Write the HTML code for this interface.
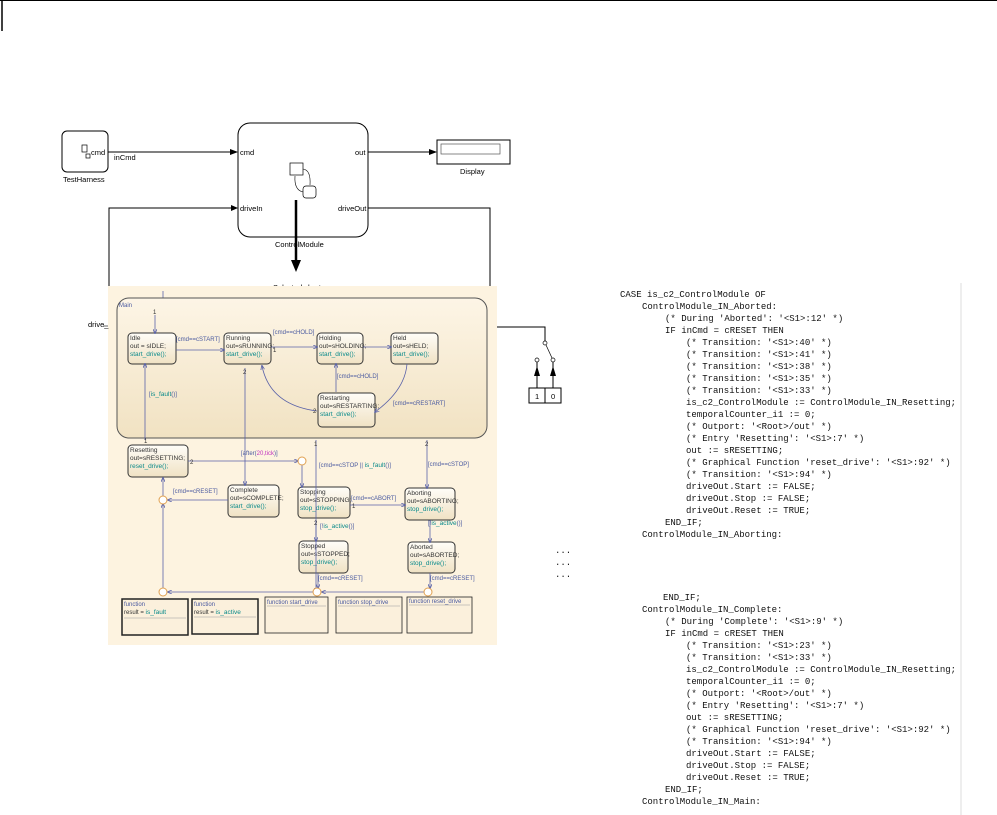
<!DOCTYPE html>
<html><head><meta charset="utf-8"><style>
html,body{margin:0;padding:0;background:#fff;width:997px;height:815px;overflow:hidden}
svg{display:block}
.s{font-family:"Liberation Sans",sans-serif;font-size:7.5px;fill:#000}
.t{font-family:"Liberation Sans",sans-serif;font-size:6.5px;fill:#333}
.a{font-family:"Liberation Sans",sans-serif;font-size:6.5px;fill:#0a8a8a}
.g{font-family:"Liberation Sans",sans-serif;font-size:6px;fill:#4a5aa0}
.c{font-family:"Liberation Mono",monospace;font-size:9px;fill:#111;white-space:pre}
</style></head><body>
<svg width="997" height="815" viewBox="0 0 997 815" xmlns="http://www.w3.org/2000/svg">
<defs>
<marker id="ar" markerWidth="8" markerHeight="6" refX="7" refY="3" orient="auto" markerUnits="userSpaceOnUse"><path d="M0,0L8,3L0,6z" fill="#000"/></marker>
<marker id="sa" markerWidth="5" markerHeight="4" refX="4" refY="2" orient="auto" markerUnits="userSpaceOnUse"><path d="M0,0L5,2L0,4" fill="none" stroke="#5a62a8" stroke-width="0.8"/></marker>
<linearGradient id="st" x1="0" y1="0" x2="0" y2="1"><stop offset="0" stop-color="#fffdf8"/><stop offset="1" stop-color="#f0e2c4"/></linearGradient>
<linearGradient id="mn" x1="0" y1="0" x2="0" y2="1"><stop offset="0" stop-color="#fdf5e6"/><stop offset="1" stop-color="#f1e2c2"/></linearGradient>
</defs>
<line x1="0" y1="0.5" x2="997" y2="0.5" stroke="#000"/>
<line x1="2" y1="0" x2="2" y2="31" stroke="#000" stroke-width="1.5"/>

<!-- top block diagram -->
<rect x="62" y="131" width="46" height="41" rx="5" fill="#fff" stroke="#000"/>
<rect x="82" y="145" width="5" height="7" fill="none" stroke="#000" stroke-width="0.7"/>
<rect x="86" y="154" width="4" height="4" fill="none" stroke="#000" stroke-width="0.7"/>
<text x="91" y="155" class="s">cmd</text>
<text x="63" y="182" class="s">TestHarness</text>
<line x1="108" y1="152" x2="237" y2="152" stroke="#000" marker-end="url(#ar)"/>
<text x="114" y="160" class="s">inCmd</text>
<rect x="238" y="123" width="130" height="114" rx="12" fill="#fff" stroke="#000"/>
<text x="240" y="155" class="s">cmd</text>
<text x="240" y="211" class="s">driveIn</text>
<text x="355" y="155" class="s">out</text>
<text x="338" y="211" class="s">driveOut</text>
<text x="275" y="247" class="s">ControlModule</text>
<rect x="290" y="163" width="13" height="12" fill="#fff" stroke="#000" stroke-width="0.7"/>
<rect x="303" y="186" width="13" height="12" rx="3" fill="#fff" stroke="#000" stroke-width="0.7"/>
<path d="M303,169 Q311,170 310,185" fill="none" stroke="#000" stroke-width="0.6"/>
<path d="M303,192 Q294,190 295,176" fill="none" stroke="#000" stroke-width="0.6"/>
<line x1="368" y1="152" x2="436" y2="152" stroke="#000" marker-end="url(#ar)"/>
<rect x="437" y="140" width="73" height="24" fill="#fff" stroke="#000"/>
<rect x="441" y="144" width="59" height="10" fill="#fff" stroke="#555" stroke-width="0.7"/>
<text x="460" y="174" class="s">Display</text>
<polyline points="109,286 109,208 237,208" fill="none" stroke="#000"/>
<path d="M231,205L238,208L231,211z"/>
<polyline points="368,208 490,208 490,286" fill="none" stroke="#000"/>
<line x1="296" y1="200" x2="296" y2="262" stroke="#000" stroke-width="2.5"/>
<path d="M291,260L296,272L301,260z"/>
<text x="273" y="290" class="s">Selected chart</text>

<!-- chart background -->
<rect x="108" y="286" width="389" height="359" fill="#fdf3e0"/>
<text x="88" y="327" class="s">drive_</text>
<line x1="103" y1="326" x2="108" y2="326" stroke="#000" stroke-width="0.6"/>
<line x1="163" y1="291" x2="163" y2="298" stroke="#5a62a8" stroke-width="0.8"/>
<rect x="117" y="298" width="370" height="140" rx="12" fill="url(#mn)" stroke="#555" stroke-width="1"/>
<text x="119" y="307" class="g" fill="#333">Main</text>

<!-- states -->
<g stroke="#333" stroke-width="1" fill="url(#st)">
<rect x="128" y="333" width="48" height="31" rx="4"/>
<rect x="224" y="333" width="47" height="31" rx="4"/>
<rect x="317" y="333" width="46" height="31" rx="4"/>
<rect x="391" y="333" width="47" height="31" rx="4"/>
<rect x="318" y="393" width="57" height="34" rx="4"/>
<rect x="128" y="445" width="60" height="32" rx="4"/>
<rect x="228" y="485" width="51" height="32" rx="4"/>
<rect x="298" y="487" width="52" height="31" rx="4"/>
<rect x="405" y="488" width="50" height="32" rx="4"/>
<rect x="299" y="541" width="49" height="32" rx="4"/>
<rect x="408" y="542" width="47" height="31" rx="4"/>
</g>
<g class="t">
<text x="130" y="340">Idle</text><text x="130" y="348">out = sIDLE;</text><text x="130" y="356" class="a">start_drive();</text>
<text x="226" y="340">Running</text><text x="226" y="348">out=sRUNNING;</text><text x="226" y="356" class="a">start_drive();</text>
<text x="319" y="340">Holding</text><text x="319" y="348">out=sHOLDING;</text><text x="319" y="356" class="a">start_drive();</text>
<text x="393" y="340">Held</text><text x="393" y="348">out=sHELD;</text><text x="393" y="356" class="a">start_drive();</text>
<text x="320" y="400">Restarting</text><text x="320" y="408">out=sRESTARTING;</text><text x="320" y="416" class="a">start_drive();</text>
<text x="130" y="452">Resetting</text><text x="130" y="460">out=sRESETTING;</text><text x="130" y="468" class="a">reset_drive();</text>
<text x="230" y="492">Complete</text><text x="230" y="500">out=sCOMPLETE;</text><text x="230" y="508" class="a">start_drive();</text>
<text x="300" y="494">Stopping</text><text x="300" y="502">out=sSTOPPING;</text><text x="300" y="510" class="a">stop_drive();</text>
<text x="407" y="495">Aborting</text><text x="407" y="503">out=sABORTING;</text><text x="407" y="511" class="a">stop_drive();</text>
<text x="301" y="548">Stopped</text><text x="301" y="556">out=sSTOPPED;</text><text x="301" y="564" class="a">stop_drive();</text>
<text x="410" y="549">Aborted</text><text x="410" y="557">out=sABORTED;</text><text x="410" y="565" class="a">stop_drive();</text>
</g>

<!-- functions -->
<g fill="#fbf0dc" stroke="#222">
<rect x="122" y="599" width="66" height="36" stroke-width="1.5"/>
<rect x="192" y="599" width="66" height="35" stroke-width="1.5"/>
<rect x="265" y="597" width="63" height="36" stroke-width="0.8"/>
<rect x="336" y="597" width="66" height="36" stroke-width="0.8"/>
<rect x="407" y="597" width="65" height="36" stroke-width="0.8"/>
</g>
<g stroke="#999" stroke-width="0.6">
<line x1="124" y1="618" x2="186" y2="618"/><line x1="194" y1="617" x2="256" y2="617"/>
<line x1="267" y1="606" x2="326" y2="606"/><line x1="338" y1="606" x2="400" y2="606"/><line x1="409" y1="605" x2="470" y2="605"/>
</g>
<g class="g">
<text x="124" y="606">function</text><text x="124" y="614" fill="#333">result = <tspan class="a">is_fault</tspan></text>
<text x="194" y="606">function</text><text x="194" y="614" fill="#333">result = <tspan class="a">is_active</tspan></text>
<text x="267" y="604">function  start_drive</text>
<text x="338" y="604">function  stop_drive</text>
<text x="409" y="603">function  reset_drive</text>
</g>

<!-- transitions -->
<g fill="none" stroke="#5a62a8" stroke-width="0.8" marker-end="url(#sa)">
<line x1="155" y1="315" x2="155" y2="333"/>
<line x1="176" y1="350" x2="224" y2="350"/>
<line x1="271" y1="347" x2="317" y2="347"/>
<line x1="363" y1="347" x2="391" y2="347"/>
<line x1="336" y1="392" x2="336" y2="364"/>
<path d="M407,364 Q405,390 375,412"/>
<path d="M317,411 Q270,405 262,366"/>
<line x1="145" y1="440" x2="145" y2="364"/>
<line x1="245" y1="368" x2="245" y2="485"/>
<line x1="188" y1="461" x2="298" y2="461"/>
<line x1="302" y1="465" x2="302" y2="487"/>
<line x1="316" y1="440" x2="316" y2="592"/>
<line x1="427" y1="440" x2="427" y2="488"/>
<line x1="350" y1="505" x2="405" y2="505"/>
<line x1="316" y1="520" x2="316" y2="541"/>
<line x1="430" y1="520" x2="430" y2="542"/>
<line x1="228" y1="500" x2="168" y2="500"/>
<line x1="163" y1="496" x2="163" y2="478"/>
<line x1="163" y1="588" x2="163" y2="504"/>
<line x1="318" y1="573" x2="318" y2="588"/>
<line x1="430" y1="573" x2="430" y2="588"/>
<line x1="424" y1="592" x2="322" y2="592"/>
<line x1="313" y1="592" x2="168" y2="592"/>
</g>
<g fill="#fff" stroke="#e0a050" stroke-width="1">
<circle cx="302" cy="461" r="4"/><circle cx="163" cy="500" r="4"/><circle cx="163" cy="592" r="4"/><circle cx="317" cy="592" r="4"/><circle cx="428" cy="592" r="4"/>
</g>
<g class="g">
<text x="176" y="341">[cmd==cSTART]</text>
<text x="273" y="334">[cmd==cHOLD]</text>
<text x="337" y="378">[cmd==cHOLD]</text>
<text x="393" y="405">[cmd==cRESTART]</text>
<text x="149" y="396">[<tspan class="a">is_fault</tspan>()]</text>
<text x="241" y="455">[after(<tspan fill="#c030c0">20,tick</tspan>)]</text>
<text x="319" y="467">[cmd==cSTOP || <tspan class="a">is_fault</tspan>()]</text>
<text x="428" y="466">[cmd==cSTOP]</text>
<text x="173" y="493">[cmd==cRESET]</text>
<text x="351" y="500">[cmd==cABORT]</text>
<text x="320" y="528">[!<tspan class="a">is_active</tspan>()]</text>
<text x="428" y="525">[!<tspan class="a">is_active</tspan>()]</text>
<text x="318" y="580">[cmd==cRESET]</text>
<text x="430" y="580">[cmd==cRESET]</text>
<text x="153" y="314" fill="#333">1</text><text x="273" y="352" fill="#333">1</text>
<text x="243" y="374" fill="#333">2</text><text x="313" y="413" fill="#333">2</text>
<text x="144" y="443" fill="#333">1</text><text x="190" y="464" fill="#333">2</text>
<text x="314" y="446" fill="#333">1</text><text x="425" y="446" fill="#333">2</text>
<text x="352" y="508" fill="#333">1</text><text x="314" y="525" fill="#333">2</text>
</g>

<!-- switch -->
<polyline points="497,327 545,327 545,341" fill="none" stroke="#000"/>
<circle cx="545" cy="343" r="2" fill="#fff" stroke="#000" stroke-width="0.7"/>
<line x1="546" y1="345" x2="552" y2="358" stroke="#000" stroke-width="0.7"/>
<circle cx="537" cy="360" r="2" fill="#fff" stroke="#000" stroke-width="0.7"/>
<circle cx="553" cy="360" r="2" fill="#fff" stroke="#000" stroke-width="0.7"/>
<line x1="537" y1="362" x2="537" y2="388" stroke="#000"/>
<line x1="553" y1="362" x2="553" y2="388" stroke="#000"/>
<path d="M534,376L537,366L540,376z"/><path d="M550,376L553,366L556,376z"/>
<rect x="529" y="388" width="16" height="15" fill="#fff" stroke="#000"/>
<rect x="545" y="388" width="16" height="15" fill="#fff" stroke="#000"/>
<text x="535" y="399" class="s">1</text><text x="551" y="399" class="s">0</text>

<!-- code -->
<line x1="961" y1="283" x2="961" y2="815" stroke="#ddd"/>
<g class="c">
<text x="620" y="297">CASE is_c2_ControlModule OF</text>
<text x="642" y="309">ControlModule_IN_Aborted:</text>
<text x="665" y="321">(* During 'Aborted': '&lt;S1&gt;:12' *)</text>
<text x="665" y="333">IF inCmd = cRESET THEN</text>
<text x="686" y="345">(* Transition: '&lt;S1&gt;:40' *)</text>
<text x="686" y="357">(* Transition: '&lt;S1&gt;:41' *)</text>
<text x="686" y="369">(* Transition: '&lt;S1&gt;:38' *)</text>
<text x="686" y="381">(* Transition: '&lt;S1&gt;:35' *)</text>
<text x="686" y="393">(* Transition: '&lt;S1&gt;:33' *)</text>
<text x="686" y="405">is_c2_ControlModule := ControlModule_IN_Resetting;</text>
<text x="686" y="417">temporalCounter_i1 := 0;</text>
<text x="686" y="429">(* Outport: '&lt;Root&gt;/out' *)</text>
<text x="686" y="441">(* Entry 'Resetting': '&lt;S1&gt;:7' *)</text>
<text x="686" y="453">out := sRESETTING;</text>
<text x="686" y="465">(* Graphical Function 'reset_drive': '&lt;S1&gt;:92' *)</text>
<text x="686" y="477">(* Transition: '&lt;S1&gt;:94' *)</text>
<text x="686" y="489">driveOut.Start := FALSE;</text>
<text x="686" y="501">driveOut.Stop := FALSE;</text>
<text x="686" y="513">driveOut.Reset := TRUE;</text>
<text x="665" y="525">END_IF;</text>
<text x="642" y="537">ControlModule_IN_Aborting:</text>
<text x="555" y="553">...</text>
<text x="555" y="565">...</text>
<text x="555" y="577">...</text>
<text x="663" y="600">END_IF;</text>
<text x="642" y="612">ControlModule_IN_Complete:</text>
<text x="665" y="624">(* During 'Complete': '&lt;S1&gt;:9' *)</text>
<text x="665" y="636">IF inCmd = cRESET THEN</text>
<text x="686" y="648">(* Transition: '&lt;S1&gt;:23' *)</text>
<text x="686" y="660">(* Transition: '&lt;S1&gt;:33' *)</text>
<text x="686" y="672">is_c2_ControlModule := ControlModule_IN_Resetting;</text>
<text x="686" y="684">temporalCounter_i1 := 0;</text>
<text x="686" y="696">(* Outport: '&lt;Root&gt;/out' *)</text>
<text x="686" y="708">(* Entry 'Resetting': '&lt;S1&gt;:7' *)</text>
<text x="686" y="720">out := sRESETTING;</text>
<text x="686" y="732">(* Graphical Function 'reset_drive': '&lt;S1&gt;:92' *)</text>
<text x="686" y="744">(* Transition: '&lt;S1&gt;:94' *)</text>
<text x="686" y="756">driveOut.Start := FALSE;</text>
<text x="686" y="768">driveOut.Stop := FALSE;</text>
<text x="686" y="780">driveOut.Reset := TRUE;</text>
<text x="665" y="792">END_IF;</text>
<text x="642" y="804">ControlModule_IN_Main:</text>
</g>
</svg>
</body></html>
